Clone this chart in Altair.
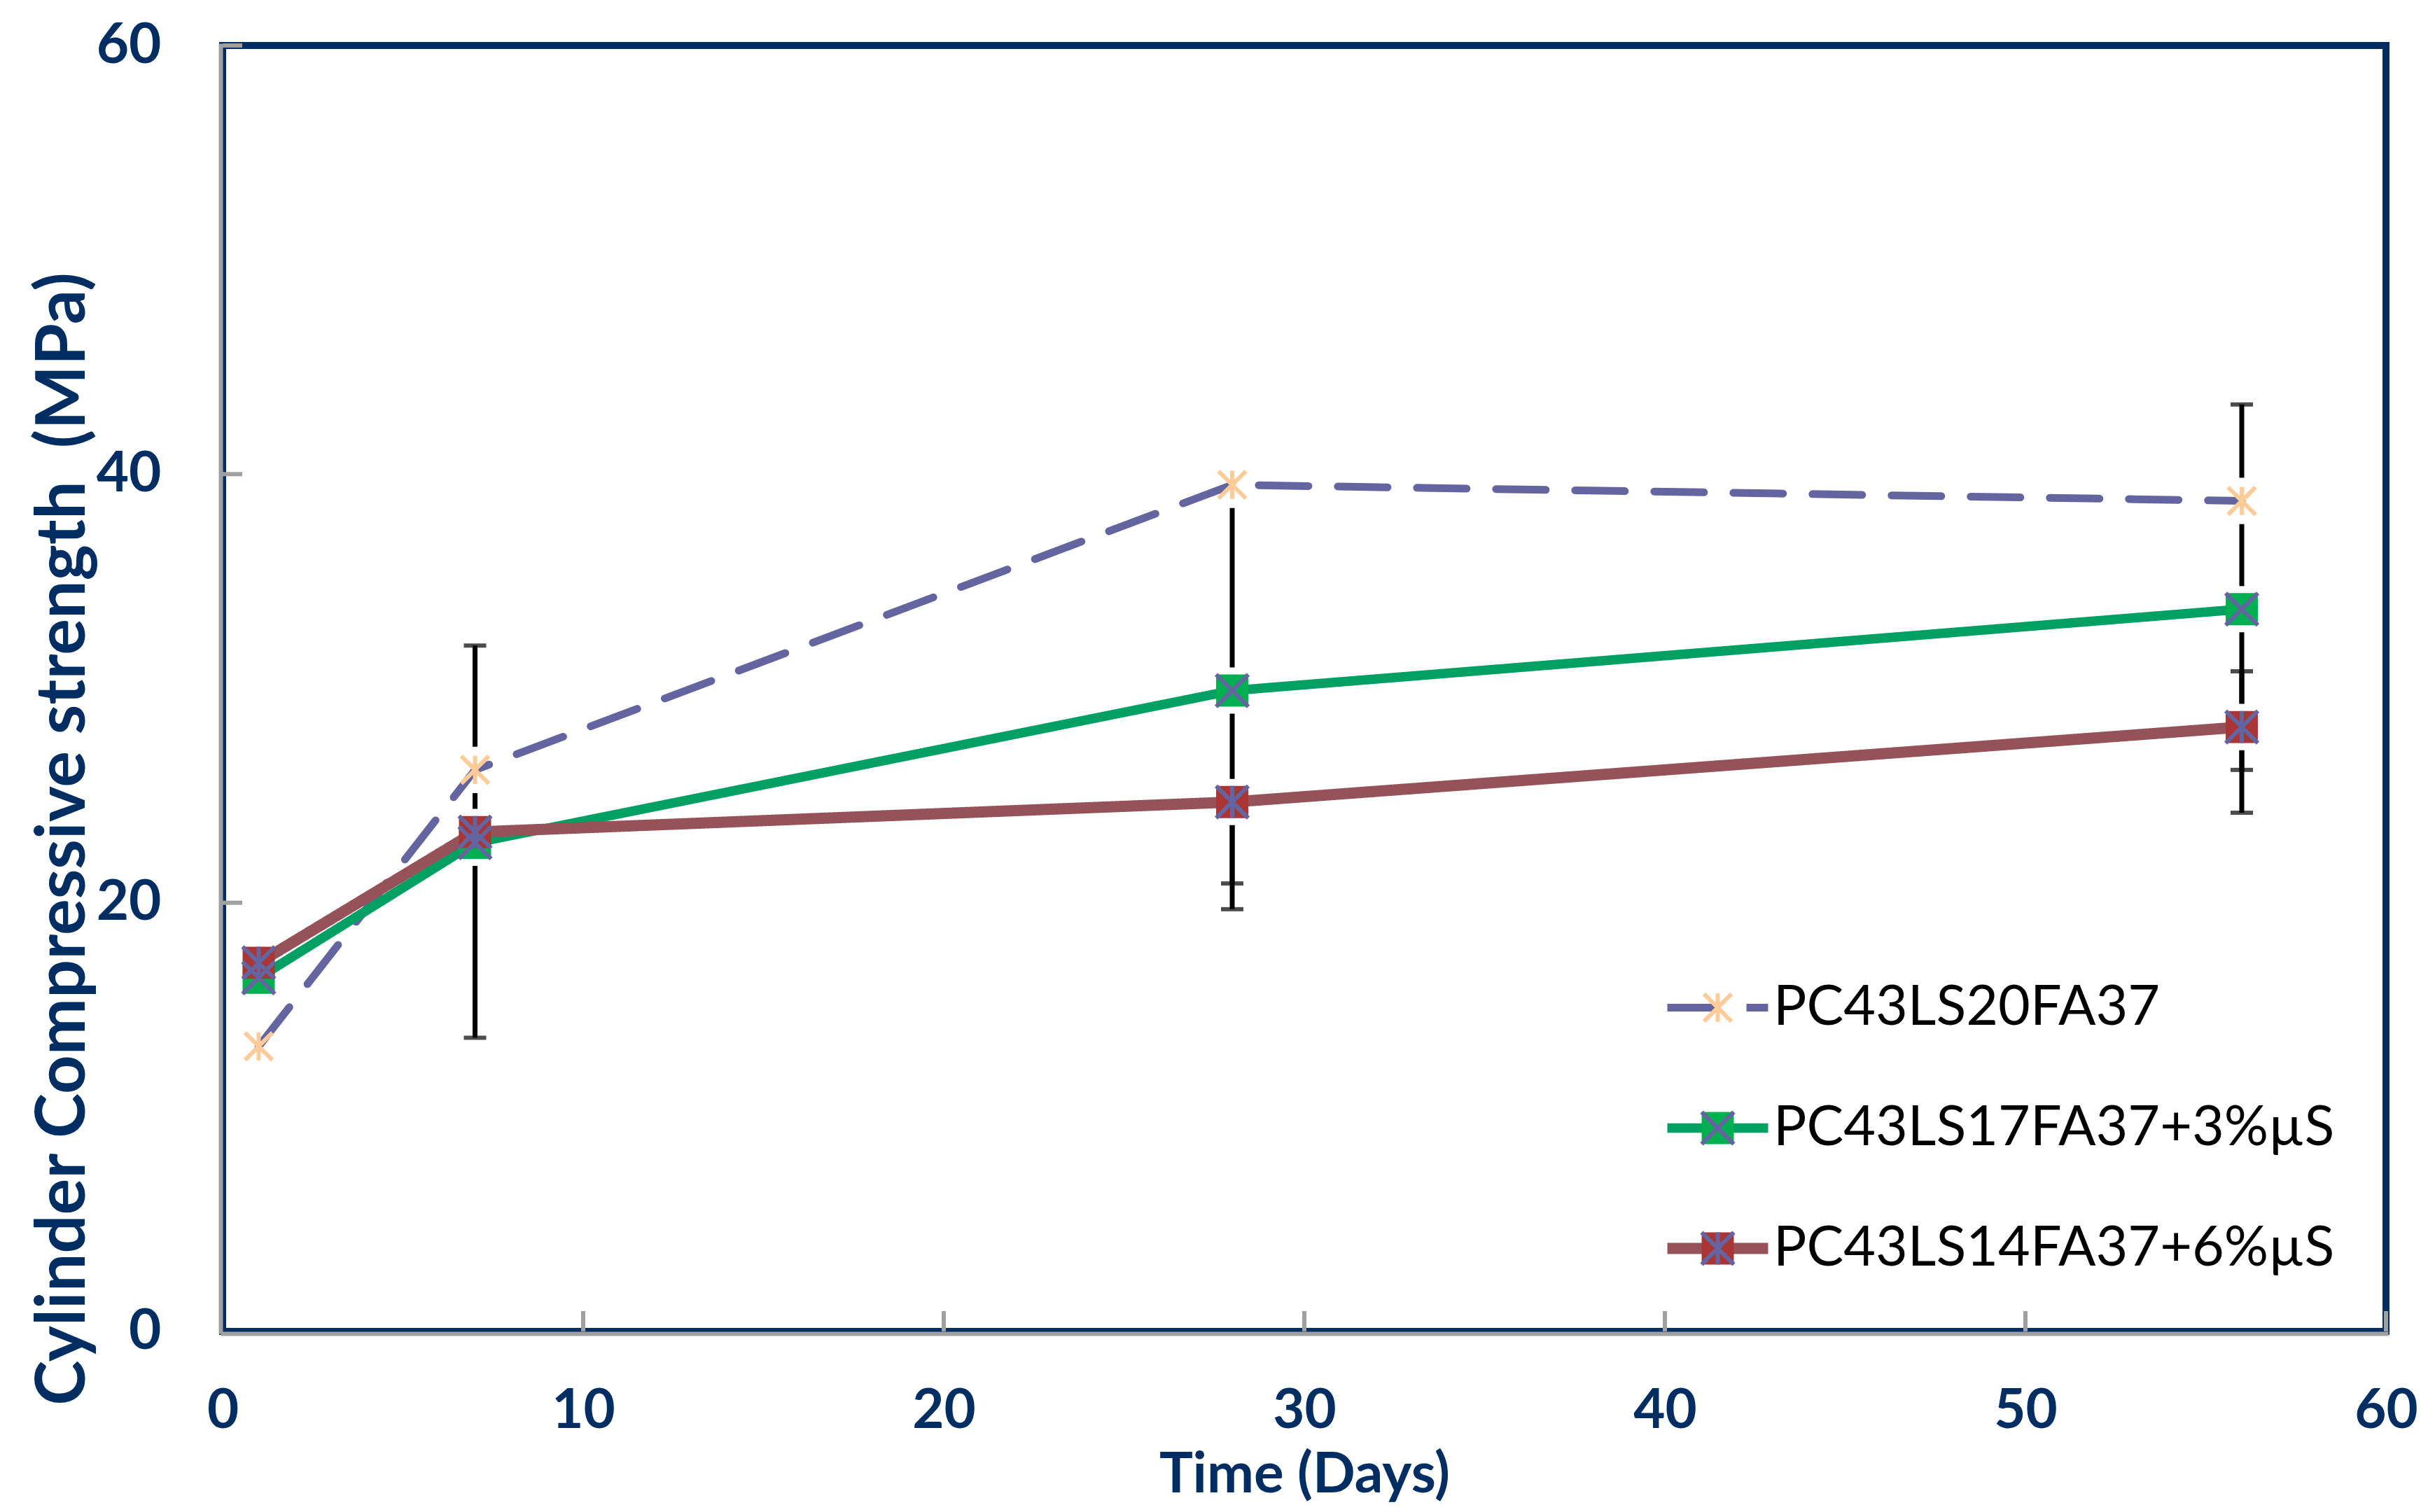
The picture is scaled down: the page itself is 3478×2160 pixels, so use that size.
import altair as alt
import pandas as pd

# ---- data ----
days = [1, 7, 28, 56]
series_names = ["PC43LS20FA37", "PC43LS17FA37+3%µS", "PC43LS14FA37+6%µS"]

strength_20fa = [13.3, 26.2, 39.5, 38.75]
strength_17fa = [16.5, 22.8, 29.9, 33.7]
strength_14fa = [17.2, 23.3, 24.7, 28.2]

# error bar ends (low / high)
low_20fa = [13.3, 26.2, 38.7, 38.3]
high_20fa = [13.3, 26.2, 40.3, 39.2]
low_17fa = [16.5, 13.7, 19.7, 24.2]
high_17fa = [16.5, 32.0, 39.5, 43.25]
low_14fa = [17.2, 23.3, 20.9, 26.2]
high_14fa = [17.2, 23.3, 24.7, 30.8]

x_tick_values = [0, 10, 20, 30, 40, 50, 60]
y_tick_values = [0, 20, 40, 60]
x_inner_ticks = [10, 20, 30, 40, 50, 60]
y_inner_ticks = [20, 40, 60]

# ---- styling ----
NAVY = "#002E63"
GRAY = "#A0A0A0"
FONT = "Lato"
W, H = 3090, 1837
S = 3136  # symbol size: a path unit of 1 -> 28 px

line_colors = ["#6465A0", "#00A062", "#955259"]
line_dash = [[71, 42], [1, 0], [1, 0]]
line_width = [11, 16, 16]
square_fill = ["transparent", "#00B050", "#A93535"]
overlay_colors = ["#FFCC99", "#6464A0", "#6464A0"]

SQ = "M-0.82,-0.82L0.82,-0.82L0.82,0.82L-0.82,0.82Z"
HALO = "M-1.18,-1.18L1.18,-1.18L1.18,1.18L-1.18,1.18Z"
AST = "M-0.7,-0.7L0.7,0.7M-0.7,0.7L0.7,-0.7M0,-0.72L0,0.72"
XS = "M-0.82,-0.82L0.82,0.82M-0.82,0.82L0.82,-0.82"
XV = XS + "M0,-0.82L0,0.82"
LINE = "M-2.57,0L2.57,0"

rows = []
for name, vals, lo, hi in [
    (series_names[0], strength_20fa, low_20fa, high_20fa),
    (series_names[1], strength_17fa, low_17fa, high_17fa),
    (series_names[2], strength_14fa, low_14fa, high_14fa),
]:
    for d, v, l, h in zip(days, vals, lo, hi):
        rows.append({"day": d, "strength": v, "lo": l, "hi": h,
                     "series": name, "series_sq": name, "series_ov": name})
df = pd.DataFrame(rows)

x_axis = alt.Axis(
    title="Time (Days)", values=x_tick_values, ticks=False, grid=False,
    domainColor=GRAY, domainWidth=6, domainCap="square", offset=3,
    labelFont=FONT, labelFontWeight="bold", labelFontSize=78, labelColor=NAVY,
    labelPadding=72, labelFlush=False,
    titleFont=FONT, titleFontWeight="bold", titleFontSize=80, titleColor=NAVY,
    titleBaseline="middle", titleY=202,
)
y_axis = alt.Axis(
    title="Cylinder Compressive strength\u00a0 (MPa)", values=y_tick_values,
    ticks=False, grid=False,
    domainColor=GRAY, domainWidth=6, domainCap="square", offset=3,
    labelFont=FONT, labelFontWeight="bold", labelFontSize=80, labelColor=NAVY,
    labelPadding=85, labelFlush=False,
    titleFont=FONT, titleFontWeight="bold", titleFontSize=97, titleColor=NAVY,
    titleBaseline="middle", titleAlign="center", titleX=-224, titleY=1133,
)

X = alt.X("day:Q", scale=alt.Scale(domain=[0, 60]), axis=x_axis)
Y = alt.Y("strength:Q", scale=alt.Scale(domain=[0, 60]), axis=y_axis)


def legend(z, show_labels=True, **kw):
    extra = {} if show_labels else {"labelExpr": "' '"}
    return alt.Legend(
        title=None, orient="none", legendX=2096, legendY=1335, padding=0,
        symbolSize=S, rowPadding=92, labelOffset=40, labelLimit=0,
        labelFont=FONT, labelFontSize=79, labelColor="black",
        zindex=z, **extra, **kw,
    )


base = alt.Chart(df)

err = base.transform_filter("datum.hi > datum.lo")
err_rule = err.mark_rule(color="black", strokeWidth=7).encode(
    x="day:Q", y="lo:Q", y2="hi:Q")
err_low = err.mark_tick(color="black", orient="horizontal", size=32, thickness=6).encode(
    x="day:Q", y="lo:Q")
err_high = err.mark_tick(color="black", orient="horizontal", size=32, thickness=6).encode(
    x="day:Q", y="hi:Q")

halo = base.mark_point(shape=HALO, filled=True, color="white", size=S, opacity=1).encode(
    x="day:Q", y="strength:Q")

line_legend = legend(1, symbolType=LINE)
lines = base.mark_line(strokeCap="round", strokeJoin="round").encode(
    x=X, y=Y,
    stroke=alt.Stroke("series:N", sort="descending",
                      scale=alt.Scale(range=line_colors), legend=line_legend),
    strokeDash=alt.StrokeDash("series:N", sort="descending",
                              scale=alt.Scale(range=line_dash), legend=line_legend),
    strokeWidth=alt.StrokeWidth("series:O", sort="descending",
                                scale=alt.Scale(range=line_width), legend=line_legend),
)

squares = base.mark_point(shape=SQ, filled=True, size=S, opacity=1, strokeWidth=0).encode(
    x="day:Q", y="strength:Q",
    fill=alt.Fill("series_sq:N", sort="descending", scale=alt.Scale(range=square_fill),
                  legend=legend(2, False, symbolType=SQ, symbolStrokeWidth=0)),
)

ov_legend = legend(3, False, symbolStrokeWidth=6, symbolFillColor="transparent")
overlay = base.mark_point(filled=False, size=S, strokeWidth=6, opacity=1).encode(
    x="day:Q", y="strength:Q",
    color=alt.Color("series_ov:N", sort="descending",
                    scale=alt.Scale(range=overlay_colors), legend=ov_legend),
    shape=alt.Shape("series_ov:N", sort="descending",
                    scale=alt.Scale(range=[AST, XS, XV]), legend=ov_legend),
)

xt = alt.Chart(pd.DataFrame({"t": x_inner_ticks})).mark_rule(color=GRAY, strokeWidth=6).encode(
    x="t:Q", y=alt.value(H), y2=alt.value(H - 29))
yt = alt.Chart(pd.DataFrame({"t": y_inner_ticks})).mark_rule(color=GRAY, strokeWidth=6).encode(
    y="t:Q", x=alt.value(0), x2=alt.value(28))

chart = alt.layer(
    err_rule, err_low, err_high, halo, lines, squares, overlay, xt, yt
).properties(
    width=W, height=H, background="white",
    autosize=alt.AutoSizeParams(type="none"),
    padding={"left": 310, "top": 57, "right": 60, "bottom": 255},
).configure_view(
    stroke=NAVY, strokeWidth=10
)

chart.save("out.html", embed_options={"renderer": "svg", "actions": False})
